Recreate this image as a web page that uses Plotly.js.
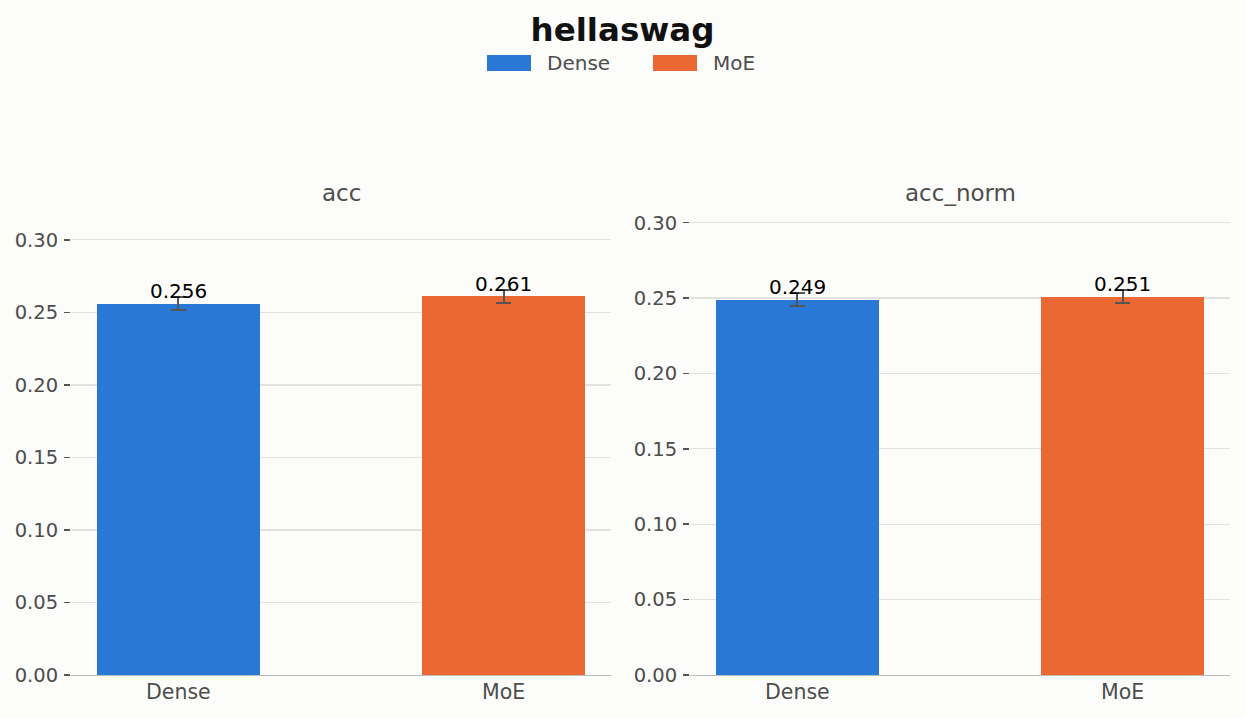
<!DOCTYPE html>
<html>
<head>
<meta charset="utf-8">
<script src="https://cdn.plot.ly/plotly-3.0.1.min.js"></script>
<style>
  html, body { margin: 0; padding: 0; background: #fcfcfa; }
  #chart { width: 1245px; height: 718px; }
</style>
</head>
<body>
<div id="chart"></div>
<script>
const models = ['Dense', 'MoE'];
const colors = ['#2a78d6', '#eb6834'];
const metrics = ['acc', 'acc_norm'];
const accValues = [0.256, 0.261];
const accErrors = [0.0044, 0.0044];
const accNormValues = [0.249, 0.251];
const accNormErrors = [0.0043, 0.0043];

const FONT = 'DejaVu Sans, sans-serif';
const GREY = '#4d4d4d';

const panels = [
	{ values: accValues, errors: accErrors, xa: 'x', ya: 'y' },
	{ values: accNormValues, errors: accNormErrors, xa: 'x2', ya: 'y2' },
];

let traces = [];
let annotations = [];
let shapes = [];

panels.forEach((p, pi) => {
	models.forEach((m, i) => {
		traces.push({
			type: 'bar',
			name: m,
			showlegend: false,
			x: [m],
			y: [p.values[i]],
			width: 0.5,
			marker: { color: colors[i] },
			error_y: { type: 'data', array: [p.errors[i]], color: '#555555', thickness: 2, width: 7.5 },
			xaxis: p.xa,
			yaxis: p.ya,
			hoverinfo: 'skip',
		});
		annotations.push({
			xref: p.xa, yref: p.ya,
			x: m, y: p.values[i],
			text: p.values[i].toFixed(3),
			showarrow: false,
			xanchor: 'center',
			yanchor: 'bottom',
			yshift: -1.5,
			font: { family: FONT, size: 20, color: '#000000' },
		});
	});
});

// subplot titles
const titleX = [341 / 1245, 960 / 1245];
metrics.forEach((t, i) => {
	annotations.push({ xref: 'paper', yref: 'paper', x: titleX[i], y: 1 - 193 / 718, text: t,
		showarrow: false, xanchor: 'center', yanchor: 'middle', font: { family: FONT, size: 23, color: GREY } });
});

// legend drawn by hand so the swatches are wide rectangles
const legendX = [487, 653];
models.forEach((m, i) => {
	shapes.push({ type: 'rect', xref: 'paper', yref: 'paper', line: { width: 0 }, fillcolor: colors[i],
		x0: legendX[i] / 1245, x1: (legendX[i] + 44) / 1245, y0: 1 - 71 / 718, y1: 1 - 55 / 718 });
	annotations.push({ xref: 'paper', yref: 'paper', x: (legendX[i] + 58) / 1245, y: 1 - 63 / 718,
		xanchor: 'left', yanchor: 'middle', text: m, showarrow: false,
		font: { family: FONT, size: 20, color: GREY } });
});

const yBase = {
	tickvals: [0, 0.05, 0.1, 0.15, 0.2, 0.25, 0.3],
	tickformat: '.2f',
	ticks: 'outside', ticklen: 6, tickwidth: 1.5, tickcolor: '#555555',
	tickfont: { family: FONT, size: 19.5, color: GREY },
	ticklabelstandoff: 2,
	showgrid: true, gridcolor: '#e2e2e0', gridwidth: 1.2,
	zeroline: false, showline: false,
	domain: [0.0599, 0.7033],
	fixedrange: true,
};
const xBase = {
	type: 'category',
	range: [-0.33, 1.33],
	showline: true, linecolor: '#bdbdb8', linewidth: 1.5,
	ticks: '', showgrid: false,
	tickfont: { family: FONT, size: 20.5, color: GREY },
	ticklabelstandoff: -2,
	fixedrange: true,
};

const layout = {
	width: 1245, height: 718,
	paper_bgcolor: '#fcfcfa', plot_bgcolor: '#fcfcfa',
	margin: { l: 0, r: 0, t: 0, b: 0 },
	title: { text: '<b>hellaswag</b>', x: 0.5, xanchor: 'center', y: 1 - 30 / 718, yanchor: 'middle',
		font: { family: FONT, size: 32.5, color: '#111111' } },
	showlegend: false,
	xaxis: Object.assign({}, xBase, { domain: [71 / 1245, 611 / 1245], anchor: 'y' }),
	xaxis2: Object.assign({}, xBase, { domain: [690 / 1245, 1230 / 1245], anchor: 'y2' }),
	yaxis: Object.assign({}, yBase, { range: [0, 0.3185], anchor: 'x' }),
	yaxis2: Object.assign({}, yBase, { range: [0, 0.3064], anchor: 'x2' }),
	annotations: annotations,
	shapes: shapes,
	bargap: 0,
};

Plotly.newPlot('chart', traces, layout, { displayModeBar: false, staticPlot: true });
</script>
</body>
</html>
